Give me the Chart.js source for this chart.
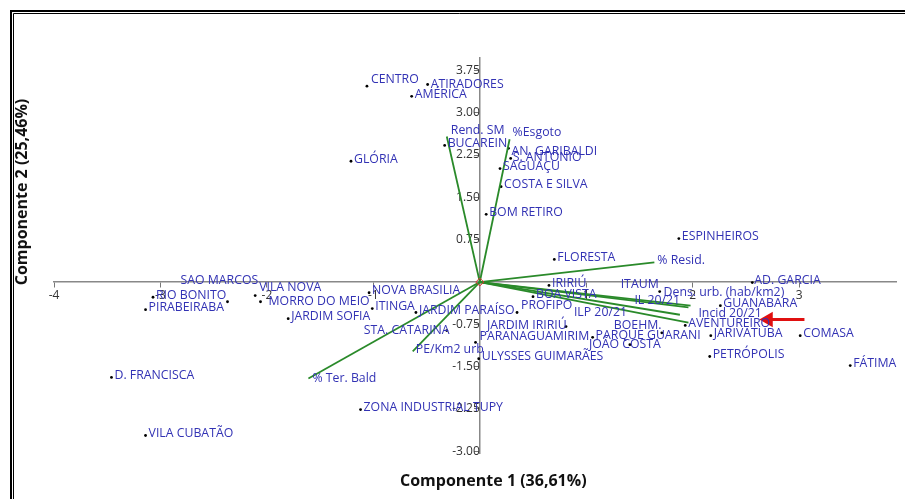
<!DOCTYPE html>
<html>
<head>
<meta charset="utf-8">
<script src="https://cdn.jsdelivr.net/npm/chart.js@4.4.1/dist/chart.umd.min.js"></script>
<style>
  html, body { margin: 0; padding: 0; background: #fff; overflow: hidden; }
  #wrap { position: relative; width: 905px; height: 499px; overflow: hidden; }
  #grafico { position: absolute; left: 0; top: 0; }
  .eixo { position: absolute; font-family: "Open Sans", sans-serif; font-weight: bold;
          font-size: 16px; color: #111; white-space: nowrap; }
  #tituloX { left: 400px; top: 469px; }
  #tituloY { left: -77px; top: 181px; width: 196px; text-align: center; transform: rotate(-90deg); }
</style>
</head>
<body>
<div id="wrap">
  <canvas id="grafico" width="905" height="499"></canvas>
  <div class="eixo" id="tituloX">Componente 1 (36,61%)</div>
  <div class="eixo" id="tituloY">Componente 2 (25,46%)</div>
</div>
<script>
// bairros (scores)
const bairros = ['CENTRO','ATIRADORES','AMÉRICA','GLÓRIA','BUCAREIN','AN. GARIBALDI','S. ANTONIO',
  'SAGUAÇU','COSTA E SILVA','BOM RETIRO','FLORESTA','ESPINHEIROS','AD. GARCIA','IRIRIÚ','ITAUM',
  'BOA VISTA','PROFIPO','JARDIM PARAÍSO','NOVA BRASILIA','ITINGA','STA. CATARINA','PARANAGUAMIRIM',
  'ULYSSES GUIMARÃES','JARDIM IRIRIÚ','PARQUE GUARANI','JOÃO COSTA','BOEHM.','AVENTUREIRO',
  'GUANABARA','JARIVATUBA','PETRÓPOLIS','COMASA','FÁTIMA','ZONA INDUSTRIAL TUPY','JARDIM SOFIA',
  'MORRO DO MEIO','VILA NOVA','SAO MARCOS','RIO BONITO','PIRABEIRABA','D. FRANCISCA','VILA CUBATÃO'];
const comp1 = [-1.06,-0.49,-0.64,-1.21,-0.33,0.27,0.29,
  0.19,0.20,0.06,0.70,1.87,2.56,0.65,1.69,
  0.50,0.35,-0.60,-1.04,-1.01,-0.31,-0.04,
  -0.01,0.81,1.06,1.41,1.71,1.93,
  2.26,2.17,2.16,3.01,3.48,-1.12,-1.80,
  -2.06,-2.11,-2.37,-3.07,-3.14,-3.46,-3.14];
const comp2 = [3.47,3.50,3.29,2.14,2.42,2.37,2.19,
  2.01,1.69,1.20,0.40,0.77,-0.01,-0.06,-0.17,
  -0.26,-0.54,-0.54,-0.19,-0.47,-0.86,-1.07,
  -1.36,-0.79,-0.98,-1.11,-0.90,-0.77,
  -0.42,-0.95,-1.32,-0.95,-1.48,-2.26,-0.65,
  -0.35,-0.24,-0.35,-0.27,-0.49,-1.69,-2.72];

// variáveis (cargas)
const variaveis = ['Rend. SM','%Esgoto','% Resid.','Dens. urb. (hab/km2)','IL 20/21','ILP 20/21',
  'Incid 20/21','% Ter. Bald','PE/Km2 urb'];
const carga1 = [-0.31,0.28,1.64,1.98,1.96,1.88,1.96,-1.61,-0.63];
const carga2 = [2.58,2.53,0.35,-0.42,-0.45,-0.58,-0.72,-1.71,-1.23];

// ticks
const xTicks = [-4,-3,-2,-1,1,2,3];
const yTicks = [3.75,3.00,2.25,1.50,0.75,-0.75,-1.50,-2.25,-3.00];

// seta vermelha
const setaX = [3.05,2.71];
const setaY = [-0.665,-0.665];

// deslocamento dos rótulos (px) quando não ficam à direita do ponto
const desloc = {
  'CENTRO':[4,-7], 'ATIRADORES':[3,0], 'AN. GARIBALDI':[3,3], 'S. ANTONIO':[2,-1],
  'STA. CATARINA':[-83,0], 'PARANAGUAMIRIM':[4,-6], 'JARDIM IRIRIÚ':[-79,-1], 'PROFIPO':[4,-7],
  'ITAUM':[-39,-7], 'JOÃO COSTA':[-41,0], 'BOEHM.':[-48,-7], 'SAO MARCOS':[-47,-21],
  'VILA NOVA':[4,-8], 'MORRO DO MEIO':[8,0], 'AD. GARCIA':[2,-2],
  'Rend. SM':[4,-6], '%Esgoto':[3,-7], '% Resid.':[3,-2], 'Dens. urb. (hab/km2)':[-27,-13],
  'IL 20/21':[-54,-7], 'ILP 20/21':[-106,-2], 'Incid 20/21':[10,-9], '% Ter. Bald':[4,0],
  'PE/Km2 urb':[3,-2]
};

const fonte = '"Open Sans", sans-serif';
const azul = '#3232b4';
const verde = '#2a8a2a';

// moldura preta (topo e esquerda)
const moldura = {
  id: 'moldura',
  beforeDraw(chart) {
    const ctx = chart.ctx;
    ctx.save();
    ctx.strokeStyle = '#000';
    ctx.lineWidth = 2;
    ctx.beginPath();
    ctx.moveTo(11, chart.height); ctx.lineTo(11, 11); ctx.lineTo(chart.width, 11);
    ctx.stroke();
    ctx.lineWidth = 1;
    ctx.beginPath();
    ctx.moveTo(13.5, chart.height); ctx.lineTo(13.5, 13.5); ctx.lineTo(chart.width, 13.5);
    ctx.stroke();
    ctx.restore();
  }
};

const rotulos = {
  id: 'rotulos',
  afterDatasetsDraw(chart) {
    const ctx = chart.ctx;
    const sx = chart.scales.x, sy = chart.scales.y;
    ctx.save();
    ctx.font = '12.3px ' + fonte;
    ctx.fillStyle = azul;
    ctx.textBaseline = 'middle';
    ctx.textAlign = 'left';
    bairros.forEach((nome, i) => {
      const d = desloc[nome] || [3, -2];
      ctx.fillText(nome, sx.getPixelForValue(comp1[i]) + d[0], sy.getPixelForValue(comp2[i]) + d[1]);
    });
    variaveis.forEach((nome, i) => {
      const d = desloc[nome] || [3, -2];
      ctx.fillText(nome, sx.getPixelForValue(carga1[i]) + d[0], sy.getPixelForValue(carga2[i]) + d[1]);
    });
    ctx.restore();
  }
};

const datasets = variaveis.map((nome, i) => ({
  type: 'line',
  label: nome,
  data: [{x: 0, y: 0}, {x: carga1[i], y: carga2[i]}],
  borderColor: verde,
  borderWidth: 1.8,
  pointRadius: 0,
  order: 1
}));

datasets.push({
  type: 'scatter',
  label: 'bairros',
  data: bairros.map((b, i) => ({x: comp1[i], y: comp2[i]})),
  backgroundColor: '#000',
  borderColor: '#000',
  pointRadius: 1.4,
  borderWidth: 0,
  order: 2
});

datasets.push({
  type: 'scatter',
  label: 'origem',
  data: [{x: 0, y: 0}],
  pointStyle: 'rectRot',
  backgroundColor: 'rgba(0,0,0,0)',
  borderColor: '#e03030',
  borderWidth: 1,
  pointRadius: 4,
  order: 0
});

datasets.push({
  type: 'line',
  label: 'seta',
  data: setaX.map((v, i) => ({x: v, y: setaY[i]})),
  borderColor: '#e01010',
  backgroundColor: '#e01010',
  borderWidth: 3,
  pointRadius: [0, 6],
  pointStyle: 'triangle',
  pointRotation: -90,
  order: 0
});

new Chart(document.getElementById('grafico'), {
  data: { datasets: datasets },
  options: {
    responsive: false,
    animation: false,
    devicePixelRatio: 1,
    layout: { padding: { left: 54, right: 0, top: 58, bottom: 46 } },
    plugins: { legend: { display: false }, tooltip: { enabled: false } },
    scales: {
      x: {
        type: 'linear', min: -4, max: 3.91, position: { y: 0 },
        afterBuildTicks: s => { s.ticks = xTicks.map(v => ({ value: v })); },
        afterFit: s => { s.height = 0; },
        grid: { drawOnChartArea: false, drawTicks: true, tickLength: 5, color: '#777' },
        border: { color: '#888', width: 1.5 },
        ticks: { autoSkip: false, maxRotation: 0, padding: 1, color: '#333',
                 font: { size: 12, family: fonte }, callback: v => String(v) }
      },
      y: {
        type: 'linear', min: -3.03, max: 3.97, position: { x: 0 },
        afterBuildTicks: s => { s.ticks = yTicks.map(v => ({ value: v })); },
        afterFit: s => { s.width = 0; },
        grid: { drawOnChartArea: false, drawTicks: true, tickLength: 5, color: '#777' },
        border: { color: '#888', width: 1.5 },
        ticks: { autoSkip: false, padding: 1, color: '#333',
                 font: { size: 12, family: fonte }, callback: v => v.toFixed(2) }
      }
    }
  },
  plugins: [moldura, rotulos]
});
</script>
</body>
</html>
